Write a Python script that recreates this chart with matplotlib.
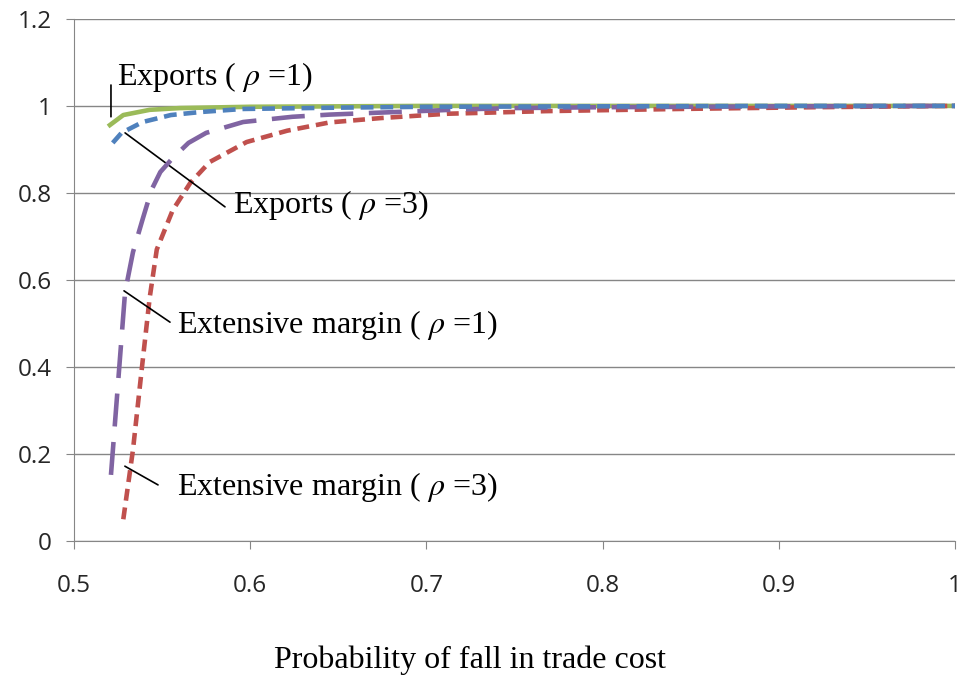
import matplotlib
matplotlib.use("Agg")
import matplotlib.pyplot as plt

# probability of fall in trade cost (x) and share of effect (y)
exp1_x = [0.5204, 0.528, 0.543, 0.56, 0.6, 0.7, 0.8, 0.9, 1.0]
exp1_y = [0.956, 0.979, 0.991, 0.995, 0.998, 1.0, 1.0, 1.0, 1.0]

exp3_x = [0.522, 0.527, 0.539, 0.555, 0.572, 0.596, 0.65, 0.7, 0.8, 0.9, 1.0]
exp3_y = [0.915, 0.938, 0.963, 0.979, 0.986, 0.993, 0.996, 0.998, 0.999, 1.0, 1.0]

ext1_x = [0.521, 0.529, 0.5335, 0.539, 0.544, 0.549, 0.556, 0.565, 0.575, 0.596, 0.624,
          0.645, 0.67, 0.696, 0.72, 0.75, 0.8, 0.9, 1.0]
ext1_y = [0.152, 0.572, 0.664, 0.74, 0.807, 0.848, 0.88, 0.915, 0.938, 0.963, 0.975,
          0.98, 0.984, 0.988, 0.992, 0.995, 0.997, 0.999, 1.0]

ext3_x = [0.528, 0.5335, 0.5386, 0.543, 0.547, 0.556, 0.566, 0.577, 0.598, 0.621, 0.645,
          0.674, 0.712, 0.768, 0.844, 0.92, 1.0]
ext3_y = [0.05, 0.21, 0.40, 0.56, 0.67, 0.76, 0.823, 0.871, 0.917, 0.943, 0.962,
          0.972, 0.982, 0.988, 0.993, 0.997, 1.0]

xticks = [0.5, 0.6, 0.7, 0.8, 0.9, 1.0]
xlabels = ["0.5", "0.6", "0.7", "0.8", "0.9", "1"]
yticks = [0, 0.2, 0.4, 0.6, 0.8, 1.0, 1.2]
ylabels = ["0", "0.2", "0.4", "0.6", "0.8", "1", "1.2"]

plt.rcParams['mathtext.fontset'] = 'stix'

fig = plt.figure(figsize=(9.63, 6.79), dpi=100)
ax = fig.add_axes([0.0768, 0.2032, 0.915, 0.769])

lw = 3.3
ax.plot(ext3_x, ext3_y, color='#C0504D', lw=lw, dashes=(2.6, 1.5), zorder=3)
ax.plot(ext1_x, ext1_y, color='#8064A2', lw=lw, dashes=(7.2, 3.4), zorder=4)
ax.plot(exp3_x, exp3_y, color='#4F81BD', lw=lw, dashes=(2.8, 1.5), zorder=5)
ax.plot(exp1_x, exp1_y, color='#9BBB59', lw=lw, zorder=2)

ax.set_xlim(0.5, 1.0)
ax.set_ylim(0, 1.2)
ax.set_xticks(xticks)
ax.set_xticklabels(xlabels)
ax.set_yticks(yticks)
ax.set_yticklabels(ylabels)
ax.grid(axis='y', color='#868686', lw=1)
ax.set_axisbelow(True)
for s in ['top', 'right']:
    ax.spines[s].set_visible(False)
for s in ['left', 'bottom']:
    ax.spines[s].set_color('#868686')
ax.tick_params(direction='out', length=6, color='#868686', labelsize=17.5,
               labelcolor='#262626')
ax.tick_params(axis='x', pad=18)
ax.tick_params(axis='y', pad=10)
for lab in ax.get_xticklabels() + ax.get_yticklabels():
    lab.set_family('Open Sans')

tfont = dict(family='Liberation Serif', fontsize=23, va='center', ha='left')
arrow = dict(arrowstyle='-', color='black', lw=1.2, shrinkA=0, shrinkB=0)

ax.annotate("", xy=(0.521, 0.975), xytext=(0.521, 1.048), arrowprops=arrow)
ax.text(0.5244, 1.066, "Exports ( $\\rho$ =1)", **tfont)

ax.annotate("", xy=(0.529, 0.938), xytext=(0.5857, 0.768), arrowprops=arrow)
ax.text(0.590, 0.772, "Exports ( $\\rho$ =3)", **tfont)

ax.annotate("", xy=(0.5284, 0.575), xytext=(0.5545, 0.503), arrowprops=arrow)
ax.text(0.5585, 0.497, "Extensive margin ( $\\rho$ =1)", **tfont)

ax.annotate("", xy=(0.5289, 0.172), xytext=(0.5477, 0.129), arrowprops=arrow)
ax.text(0.5585, 0.124, "Extensive margin ( $\\rho$ =3)", **tfont)

fig.text(0.488, 0.028, "Probability of fall in trade cost", family='Liberation Serif',
         fontsize=23, ha='center', va='center')

fig.savefig("out.png", dpi=100)
